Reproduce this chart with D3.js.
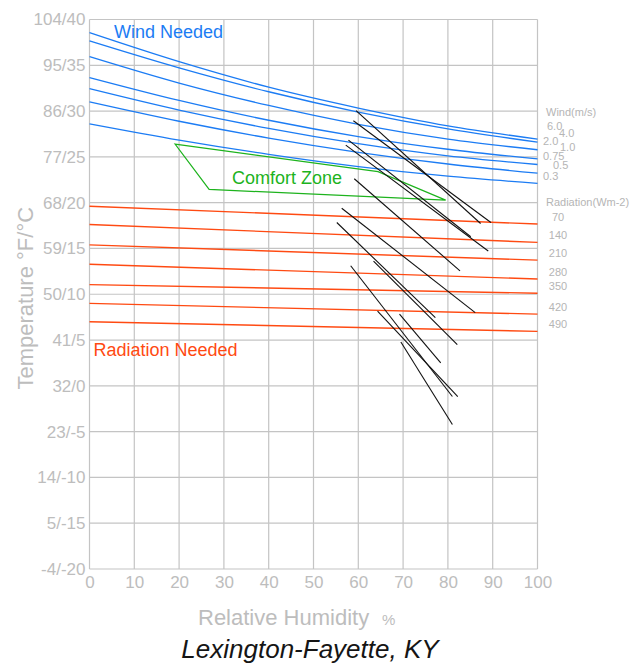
<!DOCTYPE html>
<html>
<head>
<meta charset="utf-8">
<script src="https://cdn.jsdelivr.net/npm/d3@7"></script>
<style>
  body { margin: 0; background: #fff; }
  text { font-family: "Liberation Sans", Arial, sans-serif; }
</style>
</head>
<body>
<svg id="drawing_region"></svg>
<script>
// humidity / temperature grid
const rhTicks = [0, 10, 20, 30, 40, 50, 60, 70, 80, 90, 100];
const tempTicks = [-4, 5, 14, 23, 32, 41, 50, 59, 68, 77, 86, 95, 104];
const tempLabels = ["-4/-20", "5/-15", "14/-10", "23/-5", "32/0", "41/5", "50/10",
                    "59/15", "68/20", "77/25", "86/30", "95/35", "104/40"];

// wind needed curves (deg F at each RH)
const windRH = [0, 20, 40, 60, 80, 100];
const windLabels = ["6.0", "4.0", "2.0", "1.0", "0.75", "0.5", "0.3"];
const windTemps = [
  [101.4, 95.7, 90.7, 86.6, 83.1, 80.5],
  [99.8, 94.5, 89.8, 85.8, 82.5, 79.9],
  [96.7, 91.5, 87.1, 83.4, 80.5, 78.4],
  [92.6, 88.1, 84.2, 81.0, 78.5, 76.6],
  [90.4, 86.2, 82.6, 79.6, 77.2, 75.5],
  [87.8, 84.0, 80.7, 77.9, 75.6, 73.8],
  [83.5, 80.3, 77.5, 75.1, 73.2, 71.8]
];

// radiation needed lines (deg F at RH 0 and RH 100)
const radLabels = ["70", "140", "210", "280", "350", "420", "490"];
const radStart = [67.3, 63.7, 59.7, 55.9, 51.9, 48.2, 44.6];
const radEnd = [63.8, 60.2, 56.7, 53.0, 50.2, 46.1, 42.7];

// comfort zone outline
const comfortRH = [19.1, 64.4, 79.5, 26.7];
const comfortF = [79.5, 74.1, 68.5, 70.6];

// monthly climate lines: [RH at max temp, max temp, RH at min temp, min temp]
const monthRH1 = [59.5, 58.9, 57.8, 57.2, 59.1, 56.3, 55.2, 63.4, 58.3, 64.3, 69.2, 69.5];
const monthF1  = [86.1, 84.1, 80.3, 79.3, 72.7, 66.9, 64.1, 56.5, 55.6, 46.7, 46.1, 40.6];
const monthRH2 = [87.3, 89.6, 85.1, 89.0, 82.7, 86.1, 77.2, 82.1, 81.0, 82.2, 78.4, 81.0];
const monthF2  = [63.9, 64.1, 61.3, 58.5, 54.6, 46.4, 45.4, 40.1, 29.9, 29.9, 36.5, 24.4];

// where the wind labels sit next to the curve ends (layout only)
const windLabelX = [547, 559, 543, 560, 543, 553, 543];
const windLabelY = [126, 133.5, 141, 147, 156, 165.5, 176];

const W = 632, H = 668;
const svg = d3.select('#drawing_region').attr('width', W).attr('height', H);
svg.append('rect').attr('width', W).attr('height', H).attr('fill', '#fff');

const x = d3.scaleLinear().domain([0, 100]).range([89.5, 537.5]);
const y = d3.scaleLinear().domain([-4, 104]).range([569, 19.5]);
const grey = '#bdbdbd';

// grid
const grid = svg.append('g');
grid.selectAll('line.v').data(rhTicks).enter().append('line')
  .attr('x1', d => x(d)).attr('x2', d => x(d))
  .attr('y1', y(104)).attr('y2', y(-4))
  .attr('stroke', '#c4c4c4').attr('stroke-width', 1.2);
grid.selectAll('line.h').data(tempTicks).enter().append('line')
  .attr('x1', x(0)).attr('x2', x(100))
  .attr('y1', d => y(d)).attr('y2', d => y(d))
  .attr('stroke', '#c4c4c4').attr('stroke-width', 1.2);

// axes
const yAxis = d3.axisLeft(y).tickValues(tempTicks).tickSize(0).tickPadding(4)
  .tickFormat((d, i) => tempLabels[i]);
const yg = svg.append('g').attr('transform', `translate(${x(0)},0)`).call(yAxis);
yg.select('.domain').remove();
yg.selectAll('text').attr('fill', grey).style('font-size', '17px')
  .style('font-family', '"Liberation Sans", Arial, sans-serif');

const xAxis = d3.axisBottom(x).tickValues(rhTicks).tickSize(0).tickPadding(7);
const xg = svg.append('g').attr('transform', `translate(0,${y(-4)})`).call(xAxis);
xg.select('.domain').remove();
xg.selectAll('text').attr('fill', grey).style('font-size', '17px')
  .style('font-family', '"Liberation Sans", Arial, sans-serif');

// radiation lines
svg.selectAll('line.rad').data(radLabels).enter().append('line')
  .attr('x1', x(0)).attr('x2', x(100))
  .attr('y1', (d, i) => y(radStart[i])).attr('y2', (d, i) => y(radEnd[i]))
  .attr('stroke', '#ff4a12').attr('stroke-width', 1.4);

// wind curves
const line = d3.line().x(d => x(d[0])).y(d => y(d[1])).curve(d3.curveMonotoneX);
svg.selectAll('path.wind').data(windTemps).enter().append('path')
  .attr('d', t => line(windRH.map((r, j) => [r, t[j]])))
  .attr('fill', 'none').attr('stroke', '#1c7cf4').attr('stroke-width', 1.3);

// comfort zone
svg.append('path')
  .attr('d', d3.line().x(d => x(d[0])).y(d => y(d[1]))(comfortRH.map((r, i) => [r, comfortF[i]])) + 'Z')
  .attr('fill', 'none').attr('stroke', '#1db31d').attr('stroke-width', 1.2);

// monthly lines
svg.selectAll('line.month').data(monthRH1).enter().append('line')
  .attr('x1', (d, i) => x(monthRH1[i])).attr('y1', (d, i) => y(monthF1[i]))
  .attr('x2', (d, i) => x(monthRH2[i])).attr('y2', (d, i) => y(monthF2[i]))
  .attr('stroke', '#111').attr('stroke-width', 1.1);

// zone labels
svg.append('text').attr('x', 114).attr('y', 37.5).attr('fill', '#1c7cf4')
  .style('font-size', '18px').text('Wind Needed');
svg.append('text').attr('x', 232).attr('y', 184).attr('fill', '#1db31d')
  .style('font-size', '18px').text('Comfort Zone');
svg.append('text').attr('x', 93.5).attr('y', 356).attr('fill', '#ff4a12')
  .style('font-size', '18px').text('Radiation Needed');

// right side legends
svg.append('text').attr('x', 546).attr('y', 116).attr('fill', '#b5b5b5')
  .style('font-size', '11px').text('Wind(m/s)');
svg.selectAll('text.wl').data(windLabels).enter().append('text')
  .attr('x', (d, i) => windLabelX[i])
  .attr('y', (d, i) => windLabelY[i])
  .attr('dy', '0.35em')
  .attr('fill', '#b5b5b5').style('font-size', '11px').text(d => d);

svg.append('text').attr('x', 546).attr('y', 206).attr('fill', '#b5b5b5')
  .style('font-size', '11px').text('Radiation(Wm-2)');
svg.selectAll('text.rl').data(radLabels).enter().append('text')
  .attr('x', 558).attr('text-anchor', 'middle')
  .attr('y', (d, i) => y(radEnd[i]) - 7)
  .attr('dy', '0.35em')
  .attr('fill', '#b5b5b5').style('font-size', '11px').text(d => d);

// axis titles
svg.append('text')
  .attr('transform', `translate(33,${(y(104) + y(-4)) / 2 + 4}) rotate(-90)`)
  .attr('text-anchor', 'middle').attr('fill', grey)
  .style('font-size', '22px').text('Temperature °F/°C');

const xt = svg.append('text').attr('x', 198).attr('y', 625).attr('fill', grey)
  .style('font-size', '22px');
xt.append('tspan').text('Relative Humidity');
xt.append('tspan').attr('x', 382).style('font-size', '15px').text('%');

svg.append('text').attr('x', 310).attr('y', 658).attr('text-anchor', 'middle')
  .attr('fill', '#151515').style('font-size', '26px').style('font-style', 'italic')
  .text('Lexington-Fayette, KY');
</script>
</body>
</html>
